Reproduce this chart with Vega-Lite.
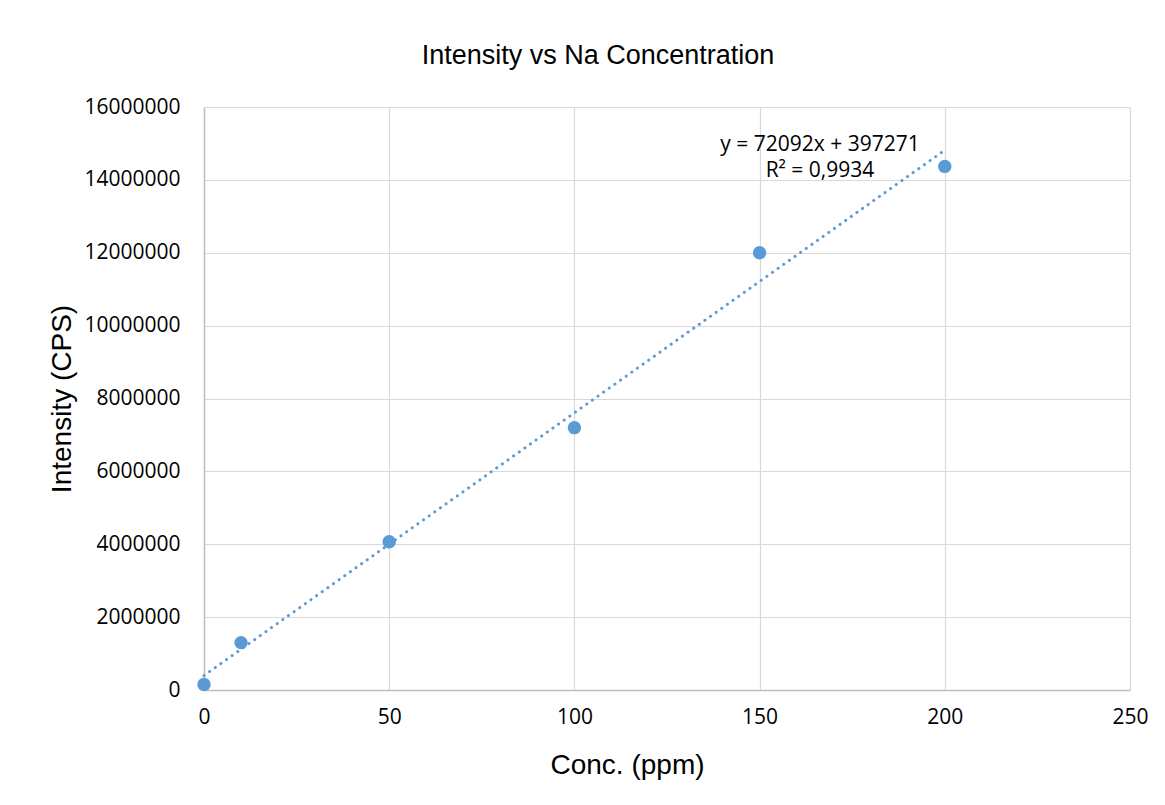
{
  "$schema": "https://vega.github.io/schema/vega-lite/v6.json",
  "width": 926,
  "height": 583,
  "autosize": {"type": "none"},
  "padding": {"left": 204, "top": 107, "right": 35, "bottom": 115},
  "background": "white",
  "title": {
    "text": "Intensity vs Na Concentration",
    "font": "Liberation Sans",
    "fontSize": 27,
    "fontWeight": "normal",
    "color": "#000000",
    "anchor": "middle",
    "dx": -69,
    "offset": 26
  },
  "config": {
    "view": {"stroke": null},
    "axis": {
      "gridColor": "#d9d9d9",
      "gridWidth": 1.2,
      "domainColor": "#bfbfbf",
      "domainWidth": 1.5,
      "ticks": false,
      "labelFlush": false,
      "labelFont": "Open Sans",
      "labelFontSize": 21,
      "labelColor": "#000000",
      "titleFont": "Liberation Sans",
      "titleFontSize": 28,
      "titleFontWeight": "normal",
      "titleColor": "#000000"
    }
  },
  "datasets": {
    "points": [
      {"conc": 0, "intensity": 150000},
      {"conc": 10, "intensity": 1300000},
      {"conc": 50, "intensity": 4070000},
      {"conc": 100, "intensity": 7200000},
      {"conc": 150, "intensity": 12000000},
      {"conc": 200, "intensity": 14370000}
    ],
    "trend": [
      {"conc": 0, "intensity": 397271},
      {"conc": 200, "intensity": 14815671}
    ],
    "labels": [
      {"conc": 166.3, "intensity": 14960000, "text": "y = 72092x + 397271"},
      {"conc": 166.3, "intensity": 14230000, "text": "R² = 0,9934"}
    ]
  },
  "layer": [
    {
      "data": {"name": "trend"},
      "mark": {"type": "line", "color": "#5b9bd5", "strokeWidth": 3, "strokeDash": [0.1, 6.8], "strokeCap": "round"},
      "encoding": {
        "x": {
          "field": "conc", "type": "quantitative",
          "scale": {"domain": [0, 250], "nice": false},
          "axis": {"values": [0, 50, 100, 150, 200, 250], "title": "Conc. (ppm)", "labelPadding": 16, "titlePadding": 24, "titleX": 423, "grid": true}
        },
        "y": {
          "field": "intensity", "type": "quantitative",
          "scale": {"domain": [0, 16000000], "nice": false},
          "axis": {"values": [0, 2000000, 4000000, 6000000, 8000000, 10000000, 12000000, 14000000, 16000000], "format": "d", "title": "Intensity (CPS)", "labelPadding": 24, "titlePadding": 7, "grid": true}
        }
      }
    },
    {
      "data": {"name": "points"},
      "mark": {"type": "point", "filled": true, "opacity": 1, "color": "#5b9bd5", "size": 180, "shape": "circle"},
      "encoding": {
        "x": {"field": "conc", "type": "quantitative"},
        "y": {"field": "intensity", "type": "quantitative"}
      }
    },
    {
      "data": {"name": "labels"},
      "mark": {"type": "text", "font": "Open Sans", "fontSize": 21, "color": "#000000", "align": "center", "baseline": "middle"},
      "encoding": {
        "x": {"field": "conc", "type": "quantitative"},
        "y": {"field": "intensity", "type": "quantitative"},
        "text": {"field": "text"}
      }
    }
  ]
}
